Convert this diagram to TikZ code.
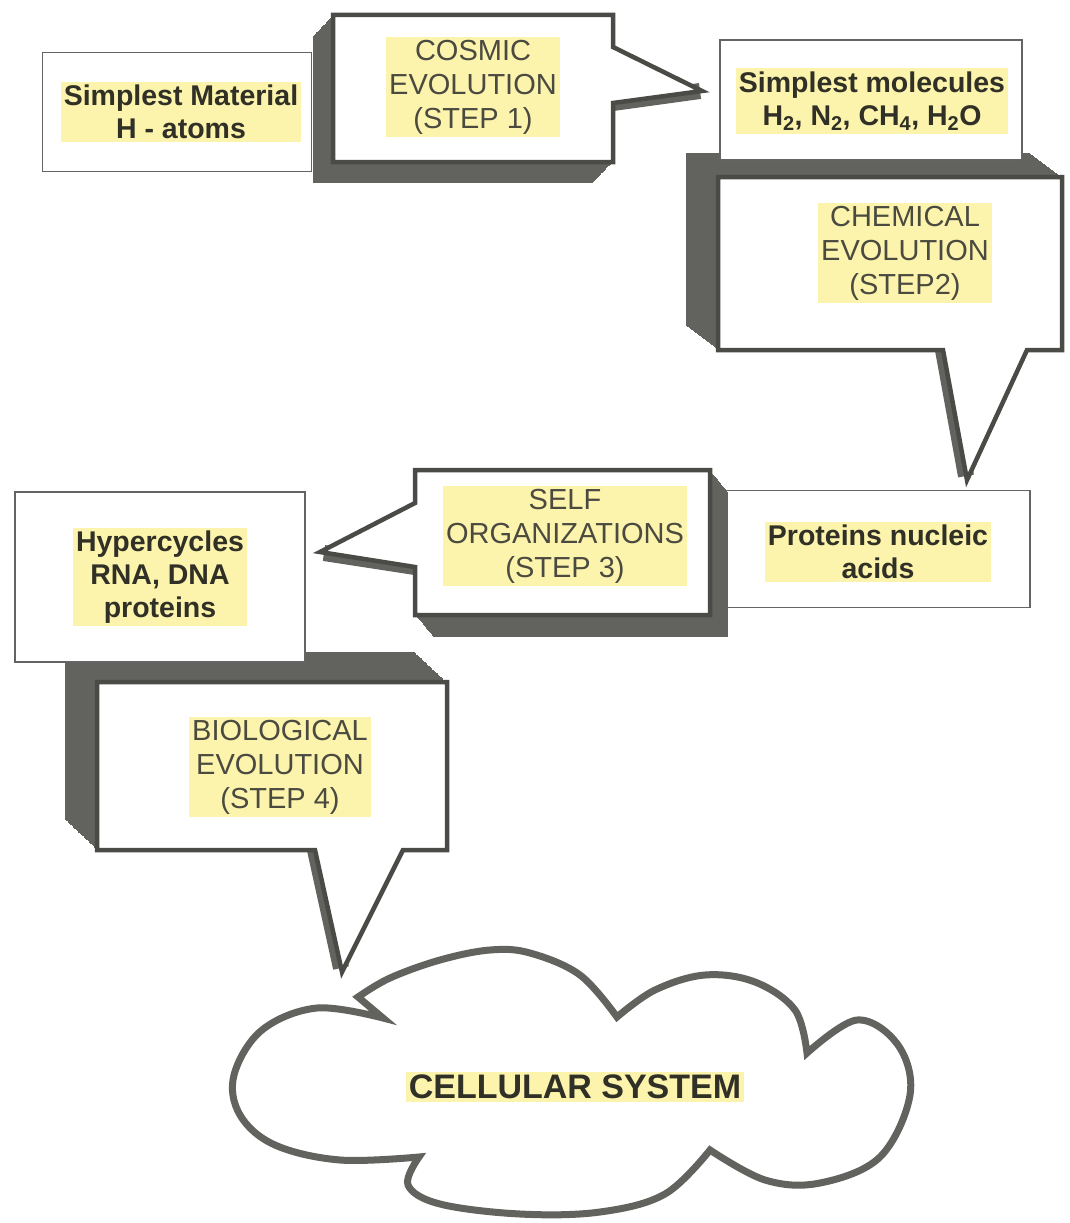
\documentclass[tikz,border=0pt]{standalone}
\usepackage{fontspec}
\setmainfont{Liberation Sans}
\usepackage{tikz}

\definecolor{bulkgray}{RGB}{98,98,95}
\definecolor{edge}{RGB}{74,74,70}
\definecolor{boxline}{RGB}{100,100,100}
\definecolor{hilite}{RGB}{252,243,172}
\definecolor{ink}{RGB}{48,48,38}
\definecolor{inklight}{RGB}{74,74,64}

% outlines of the four step callouts (pixel units, y downwards)
\newcommand{\cosmicpath}{(333,15) -- (613,15) -- (613,47) -- (702,91) -- (613,103) -- (613,162) -- (333,162) -- cycle}
\newcommand{\chemicalpath}{(718,177) -- (1062,177) -- (1062,350) -- (1027,350) -- (967,480) -- (943,350) -- (718,350) -- cycle}
\newcommand{\selfpath}{(415,470) -- (710,470) -- (710,615) -- (415,615) -- (415,567) -- (320,552) -- (415,503) -- cycle}
\newcommand{\biopath}{(97,682) -- (447,682) -- (447,850) -- (403,850) -- (342,972) -- (315,850) -- (97,850) -- cycle}

% extruded callout: #1 body, #2 outline, (#3,#4) depth, #5 shaded pointer side
\newcommand{\callout}[5]{%
  \foreach \k in {0,...,24}{\fill[bulk, shift={({#3*\k/24},{#4*\k/24})}] #1;}
  \draw[rim] #5;
  \draw[face] #2;}

\begin{document}
\begin{tikzpicture}[x=1pt, y=-1pt,
    box/.style={draw=boxline, line width=1.8pt, fill=white, inner sep=0pt},
    boxtext/.style={fill=hilite, text=ink, font=\fontsize{28.5}{33}\selectfont\bfseries, align=center, inner sep=3pt},
    steptext/.style={fill=hilite, text=inklight, font=\fontsize{29}{34}\selectfont, align=center, inner sep=3pt},
    face/.style={fill=white, draw=edge, line width=4.5pt},
    rim/.style={draw=bulkgray, line width=16pt},
    bulk/.style={fill=bulkgray},
    cloudline/.style={draw=bulkgray, line width=7pt, fill=white}]

    \useasboundingbox (0,0) rectangle (1070,1223);

    \node[box, minimum width=269pt, minimum height=119pt] (atoms) at (177,112) {};
    \node[boxtext] (atomstxt) at (181,112) {Simplest Material\\H - atoms};

    \callout{(333,15) rectangle (613,162)}{\cosmicpath}{-20}{21}{(613,103) -- (700,91)}
    \node[steptext] (cosmic) at (473,87) {COSMIC\\EVOLUTION\\(STEP 1)};

    \callout{(718,177) rectangle (1062,350)}{\chemicalpath}{-32}{-24}{(943,350) -- (966,476)}
    \node[steptext] (chemical) at (905,253) {CHEMICAL\\EVOLUTION\\(STEP2)};

    \node[box, minimum width=302pt, minimum height=120pt] (molecules) at (871,100) {};
    \node[boxtext] (moleculestxt) at (872,101) {Simplest molecules\\H\textsubscript{2}, N\textsubscript{2}, CH\textsubscript{4}, H\textsubscript{2}O};

    \node[box, minimum width=320pt, minimum height=117pt] (proteins) at (870,549) {};
    \node[boxtext] (proteinstxt) at (878,552) {Proteins nucleic\\acids};

    \callout{(415,470) rectangle (710,615)}{\selfpath}{18}{22}{(324,553) -- (415,567)}
    \node[steptext] (self) at (565,536) {SELF\\ORGANIZATIONS\\(STEP 3)};

    \callout{(97,682) rectangle (447,850)}{\biopath}{-32}{-30}{(315,850) -- (341,968)}
    \node[steptext] (bio) at (280,767) {BIOLOGICAL\\EVOLUTION\\(STEP 4)};

    \node[box, minimum width=290pt, minimum height=170pt] (hyper) at (160,577) {};
    \node[boxtext] (hypertxt) at (160,577) {Hypercycles\\RNA, DNA\\proteins};

    \draw[cloudline] plot[smooth, tension=0.6] coordinates {(383,1018) (317,1008) (262,1030) (234,1075) (240,1115) (275,1145) (340,1160) (419,1157)}
        -- plot[smooth, tension=0.6] coordinates {(419,1157) (408,1185) (440,1204) (520,1214) (600,1212) (665,1194) (710,1150)}
        -- plot[smooth, tension=0.6] coordinates {(710,1150) (765,1180) (820,1183) (880,1157) (910,1095) (898,1045) (857,1020) (807,1053)}
        -- plot[smooth, tension=0.6] coordinates {(807,1053) (795,1010) (755,982) (705,975) (655,990) (617,1017)}
        -- plot[smooth, tension=0.6] coordinates {(617,1017) (580,975) (530,953) (490,950) (440,960) (390,978) (358,997)}
        -- cycle;
    \node[boxtext, font=\fontsize{34}{40}\selectfont\bfseries] (cell) at (575,1087) {CELLULAR SYSTEM};
\end{tikzpicture}
\end{document}
